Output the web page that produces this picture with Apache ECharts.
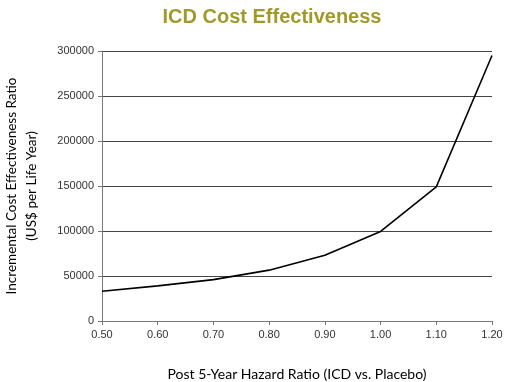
<!DOCTYPE html>
<html><head><meta charset="utf-8">
<script src="https://cdn.jsdelivr.net/npm/echarts@6/dist/echarts.min.js"></script>
<style>html,body{margin:0;padding:0;background:#fff}#c{width:510px;height:382px}</style>
</head><body><div id="c"></div>
<script>
var categories = ['0.50','0.60','0.70','0.80','0.90','1.00','1.10','1.20'];
var icerValues = [33000, 39000, 46000, 56500, 73000, 99500, 149000, 295000];
var yTicks = [0, 50000, 100000, 150000, 200000, 250000, 300000];

var chart = echarts.init(document.getElementById('c'), null, {renderer:'canvas'});
chart.setOption({
  animation:false,
  backgroundColor:'#fff',
  title:{
    text:'ICD Cost Effectiveness',
    left:267, top:2, textAlign:'center',
    textStyle:{fontFamily:'Liberation Sans, Arial', fontWeight:'bold', fontSize:20, color:'#a09a2a'}
  },
  grid:{left:102, right:18, top:51, bottom:61, containLabel:false, outerBoundsMode:'none'},
  xAxis:{
    type:'category', data:categories, boundaryGap:false,
    name:'Post 5-Year Hazard Ratio (ICD vs. Placebo)', nameLocation:'middle', nameGap:46,
    nameTextStyle:{fontFamily:'Lato', fontSize:14, color:'#000'},
    axisLine:{lineStyle:{color:'#777', width:1}},
    axisTick:{show:true, length:4, inside:false, alignWithLabel:true, lineStyle:{color:'#777'}},
    axisLabel:{fontFamily:'Liberation Sans, Arial', fontSize:11, color:'#333', margin:8},
    splitLine:{show:false}
  },
  yAxis:{
    type:'value', min:yTicks[0], max:yTicks[yTicks.length-1], interval:50000,
    name:'Incremental Cost Effectiveness Ratio\n(US$ per Life Year)', nameLocation:'middle', nameGap:60,
    nameTextStyle:{fontFamily:'Lato', fontSize:13.5, color:'#000', lineHeight:20, align:'center'},
    axisLine:{show:true, lineStyle:{color:'#777', width:1}},
    axisTick:{show:true, length:4, lineStyle:{color:'#777'}},
    axisLabel:{fontFamily:'Liberation Sans, Arial', fontSize:11, color:'#333', margin:8,
      formatter:function(v){return String(v);}},
    splitLine:{show:true, lineStyle:{color:'#444', width:1}}
  },
  series:[{
    type:'line', data:icerValues, symbol:'none', smooth:false,
    lineStyle:{color:'#000', width:1.6}
  }]
});
</script></body></html>
